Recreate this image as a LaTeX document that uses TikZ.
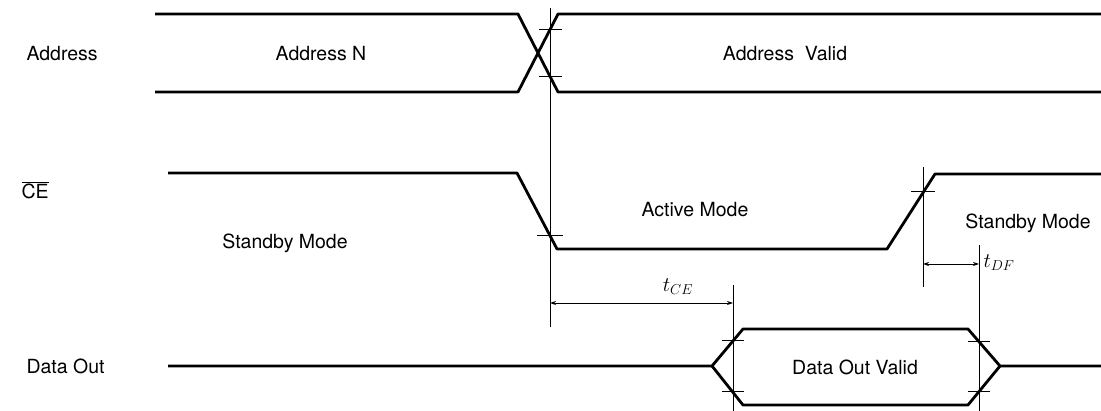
\documentclass[tikz,border=0pt]{standalone}
\usepackage{fontspec}
\setmainfont{TeX Gyre Heros}
\usetikzlibrary{arrows.meta}

\begin{document}
\begin{tikzpicture}[x=1pt, y=-1pt,
    signal/.style={line width=2.8pt, line join=round},
    guide/.style={line width=0.8pt},
    tickmark/.style={line width=1pt},
    timing/.style={line width=0.8pt, {Stealth[length=6pt,width=4pt]}-{Stealth[length=6pt,width=4pt]}},
    lbl/.style={font=\fontsize{19.5}{22}\selectfont}]

    \useasboundingbox (0,0) rectangle (1101,411);

    % signal names
    \node[lbl, anchor=west] (addr) at (23,54) {Address};
    \node[lbl, anchor=west] (ce) at (18,190) {$\overline{\hbox{CE}}$};
    \node[lbl, anchor=west] (dout) at (23,366) {Data Out};

    % address bus
    \draw[signal] (155,14) -- (518,14) -- (558,92) -- (1101,92);
    \draw[signal] (155,92) -- (518,92) -- (558,14) -- (1101,14);
    \draw[tickmark] (539,30) -- (562,30);
    \draw[tickmark] (539,77) -- (562,77);
    \node[lbl] (addrN) at (321,54) {Address N};
    \node[lbl] (addrV) at (785,54) {Address\ \ Valid};

    % chip enable
    \draw[signal] (168,173) -- (517,173) -- (557,249) -- (887,249) -- (935,174) -- (1101,174);
    \draw[tickmark] (537,236) -- (563,236);
    \draw[tickmark] (911,192) -- (935,192);
    \node[lbl] (stby1) at (285,243) {Standby Mode};
    \node[lbl] (active) at (695,210) {Active Mode};
    \node[lbl] (stby2) at (1028,223) {Standby Mode};

    % data out
    \draw[signal] (168,366) -- (712,366) -- (743,329) -- (968,329) -- (1000,366) -- (1101,366);
    \draw[signal] (712,366) -- (743,405) -- (968,405) -- (1000,366);
    \draw[tickmark] (722,341) -- (744,341);
    \draw[tickmark] (722,392) -- (744,392);
    \draw[tickmark] (968,342) -- (990,342);
    \draw[tickmark] (968,392) -- (990,392);
    \node[lbl] (valid) at (855,367) {Data Out Valid};

    % guides
    \coordinate (gA) at (550,8);
    \coordinate (gB) at (550,327);
    \coordinate (gC) at (733,285);
    \coordinate (gD) at (733,411);
    \coordinate (gE) at (923,167);
    \coordinate (gF) at (923,287);
    \coordinate (gG) at (979,245);
    \coordinate (gH) at (979,411);
    \draw[guide] (gA) -- (gB);
    \draw[guide] (gC) -- (gD);
    \draw[guide] (gE) -- (gF);
    \draw[guide] (gG) -- (gH);

    % timing arrows
    \draw[timing] (550,303) -- (733,303);
    \node[lbl] (tce) at (678,287) {$t_{\scriptstyle CE}$};
    \draw[timing] (923,264) -- (979,264);
    \node[lbl, anchor=west] (tdf) at (980,263) {$t_{\scriptstyle DF}$};

\end{tikzpicture}
\end{document}
